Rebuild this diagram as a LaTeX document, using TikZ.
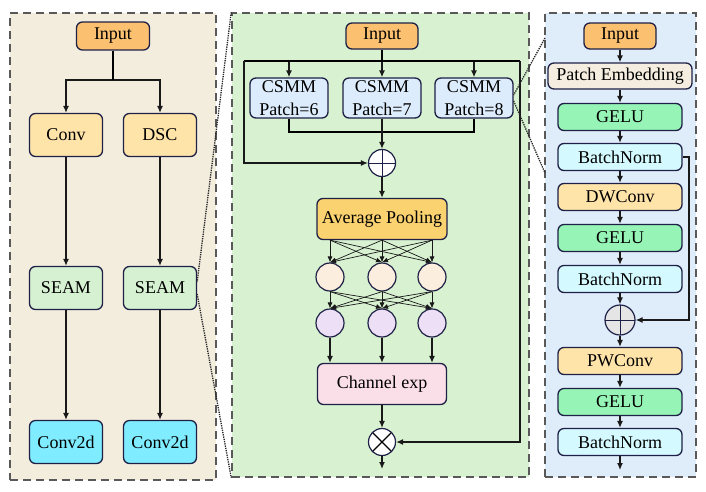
\documentclass[tikz,border=0pt]{standalone}
\usepackage{fontspec}
\setmainfont{Liberation Serif}
\usetikzlibrary{arrows.meta,positioning,calc}
\definecolor{edge}{RGB}{30,32,70}
\definecolor{panelL}{RGB}{243,237,222}
\definecolor{panelM}{RGB}{216,242,209}
\definecolor{panelR}{RGB}{223,236,250}
\definecolor{inorange}{RGB}{251,192,112}
\definecolor{convy}{RGB}{255,228,170}
\definecolor{seamg}{RGB}{214,240,210}
\definecolor{cyanb}{RGB}{128,236,255}
\definecolor{csmm}{RGB}{221,236,252}
\definecolor{avgpool}{RGB}{251,210,112}
\definecolor{peach}{RGB}{252,238,222}
\definecolor{lilac}{RGB}{236,223,246}
\definecolor{chexp}{RGB}{250,222,232}
\definecolor{embed}{RGB}{245,238,224}
\definecolor{gelu}{RGB}{150,245,182}
\definecolor{bnorm}{RGB}{212,250,255}
\tikzset{
  >={Latex[length=7pt,width=6pt]},
  blk/.style={draw=edge,fill=#1,rounded corners=6pt,line width=1.3pt,
    minimum width=124pt,minimum height=27pt,inner sep=1pt,align=center,
    font=\fontsize{18}{20}\selectfont},
  blk/.default=convy,
  panel/.style={draw=black!65,fill=#1,line width=1.5pt,dash pattern=on 8pt off 5pt,
    inner sep=0pt},
  link/.style={->,line width=1.3pt,draw=black!90},
  fine link/.style={-{Latex[length=6pt,width=5pt]},line width=0.7pt,draw=black!90},
  zoomline/.style={densely dotted,line width=1.3pt,draw=black!85},
  neuron/.style={circle,draw=edge,fill=#1,line width=1.2pt,minimum size=28pt,inner sep=0pt},
  % sum and product nodes
  addop/.style={circle,draw=edge,fill=#1,line width=1.2pt,minimum size=27pt,inner sep=0pt,
    path picture={\draw[line width=1pt,edge] (path picture bounding box.north) -- (path picture bounding box.south)
      (path picture bounding box.west) -- (path picture bounding box.east);}},
  addop/.default=white,
  mulop/.style={circle,draw=edge,fill=white,line width=1.2pt,minimum size=27pt,inner sep=0pt,
    path picture={\draw[line width=1.2pt,black] (path picture bounding box.north west) -- (path picture bounding box.south east)
      (path picture bounding box.south west) -- (path picture bounding box.north east);}},
}

\begin{document}
\begin{tikzpicture}[x=1pt,y=-1pt]
    \useasboundingbox (0,0) rectangle (706,491);
    \node[panel=panelL,minimum width=206pt,minimum height=467pt] (pL) at (113,246.5) {};
    \node[panel=panelM,minimum width=297pt,minimum height=464pt] (pM) at (380.5,245) {};
    \node[panel=panelR,minimum width=151pt,minimum height=464pt] (pR) at (620.5,245) {};

    % left: two branches
    \node[blk=inorange,minimum width=73pt,minimum height=28pt] (inL) at (113,36) {Input};
    \coordinate (splitL) at (113,80);
    \foreach \t/\x [count=\i] in {Conv/66,DSC/160}
    {
      \node[blk=convy,minimum width=73pt,minimum height=43pt] (br\i) at (\x,135) {\t};
      \node[blk=seamg,minimum width=73pt,minimum height=43pt] (seam\i) at (\x,288) {SEAM};
      \node[blk=cyanb,minimum width=73pt,minimum height=43pt] (cd\i) at (\x,442) {Conv2d};
      \draw[link] (splitL) -| (br\i);
      \draw[link] (br\i) -- (seam\i);
      \draw[link] (seam\i) -- (cd\i);
    }
    \draw[line width=1.3pt] (inL) -- (splitL);

    % middle: SEAM detail
    \node[blk=inorange,minimum width=72pt,minimum height=26pt] (inM) at (382,36) {Input};
    \coordinate (busL) at (244,61);
    \coordinate (busR) at (520,61);
    \coordinate (busC) at (382,61);
    \coordinate (joinC) at (382,132);
    \foreach \p/\x [count=\i] in {6/289,7/382,8/474}
    {
      \node[blk=csmm,minimum width=78pt,minimum height=40pt,font=\fontsize{18}{23}\selectfont] (cs\i) at (\x,98) {CSMM\\Patch=\p};
      \draw[link] (cs\i.north |- busC) -- (cs\i.north);
    }
    \draw[line width=1.3pt] (inM) -- (busC);
    \draw[line width=1.3pt] (busL) -- (busR);
    \draw[line width=1.3pt] (cs1.south) |- (cs3.south |- joinC) -- (cs3.south);
    \node[addop] (plusM) at (382,163) {};
    \draw[link] (cs2.south) -- (plusM);
    \draw[link] (busL) |- (plusM.west);
    \node[blk=avgpool,minimum width=130pt,minimum height=41pt] (avg) at (382,219) {Average Pooling};
    \draw[link] (plusM) -- (avg);
    \foreach \x [count=\i] in {330,382,432}
    {
      \node[neuron=peach] (h\i) at (\x,277) {};
      \node[neuron=lilac] (g\i) at (\x,323) {};
    }
    \foreach \a in {1,2,3}
      \foreach \b in {1,2,3}
      {
        \draw[fine link] (avg.south -| h\a) -- (h\b.north);
        \draw[fine link] (h\a.south) -- (g\b.north);
      }
    \node[blk=chexp,minimum width=129pt,minimum height=41pt] (chx) at (382,384) {Channel exp};
    \foreach \i in {1,2,3}
      \draw[link] (g\i) -- (g\i |- chx.north);
    \node[mulop] (timesM) at (382,442) {};
    \coordinate (outM) at (382,469);
    \draw[link] (chx) -- (timesM);
    \draw[link] (busR) |- (timesM.east);
    \draw[link] (timesM) -- (outM);

    % right: CSMM detail
    \node[blk=inorange,minimum width=72pt,minimum height=26pt] (inR) at (620,36) {Input};
    \node[blk=embed,minimum width=144pt,minimum height=26pt] (pe) at (620,76) {Patch Embedding};
    \foreach \n/\t/\c/\y in {ge1/GELU/gelu/117,bn1/BatchNorm/bnorm/157,dw/DWConv/convy/197,
      ge2/GELU/gelu/238,bn2/BatchNorm/bnorm/279,pw/PWConv/convy/361,ge3/GELU/gelu/402,bn3/BatchNorm/bnorm/442}
      \node[blk=\c] (\n) at (620,\y) {\t};
    \node[addop=black!10,minimum size=30pt] (plusR) at (620,320) {};
    \coordinate (skipR) at (689,157);
    \coordinate (outR) at (620,470);
    \foreach \a/\b in {inR/pe,pe/ge1,ge1/bn1,bn1/dw,dw/ge2,ge2/bn2,bn2/plusR,plusR/pw,pw/ge3,ge3/bn3,bn3/outR}
      \draw[link] (\a) -- (\b);
    \draw[link] (bn1.east) -- (skipR) |- (plusR.east);

    % zoom lines
    \draw[zoomline] (pM.north west) -- ([yshift=6pt]seam2.east);
    \draw[zoomline] ([yshift=-6pt]seam2.east) -- (pM.south west);
    \coordinate (zr1) at (545,38);
    \coordinate (zr2) at (545,173);
    \draw[zoomline] (zr1) -- ([yshift=3pt]cs3.east);
    \draw[zoomline] ([yshift=-3pt]cs3.east) -- (zr2);
  \end{tikzpicture}
\end{document}
